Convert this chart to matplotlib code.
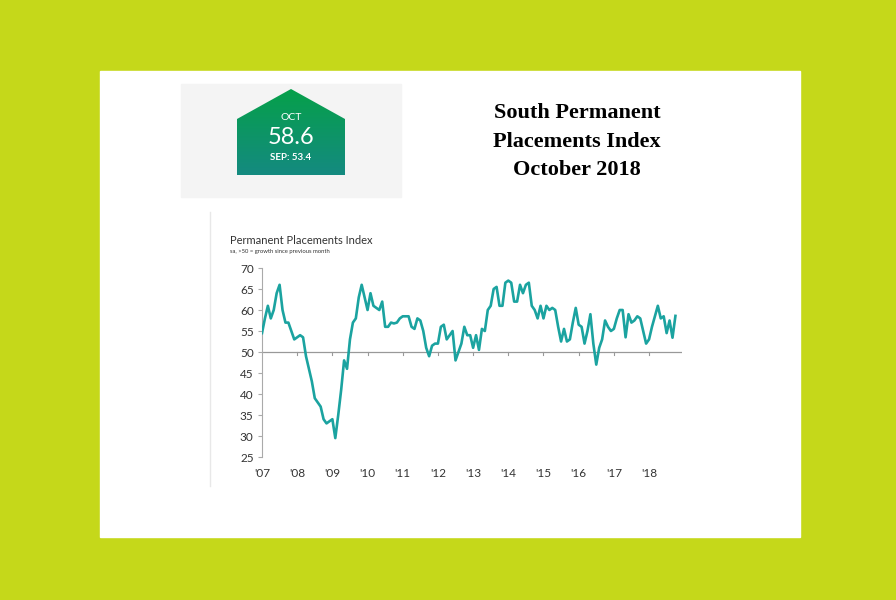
import numpy as np
import matplotlib
matplotlib.use("Agg")
import matplotlib.pyplot as plt
from matplotlib.patches import Rectangle, Polygon
from matplotlib.colors import LinearSegmentedColormap

years = ["'07","'08","'09","'10","'11","'12","'13","'14","'15","'16","'17","'18"]
v2007 = [54.5, 58, 61, 58, 60, 64, 66, 60, 57, 57, 55, 53]
v2008 = [53.5, 54, 53.5, 49, 46, 43, 39, 38, 37, 34, 33, 33.5]
v2009 = [34, 29.5, 35, 41, 48, 46, 53, 57, 58, 63, 66, 63]
v2010 = [60, 64, 61, 60.5, 60, 62, 56, 56, 57, 56.8, 57, 58]
v2011 = [58.5, 58.5, 58.5, 56, 55.5, 58, 57.5, 55, 51, 49, 51.5, 52]
v2012 = [52, 56, 56.5, 53, 54, 55, 48, 50, 52, 56, 54, 54]
v2013 = [51, 54, 50.5, 55.5, 55, 60, 61, 65, 65.5, 61, 61, 66.5]
v2014 = [67, 66.5, 62, 62, 66, 64, 66, 66.5, 61, 60, 58, 61]
v2015 = [58, 61, 60, 60.5, 60, 56, 52.5, 55.5, 52.5, 53, 57, 60.5]
v2016 = [56.5, 56, 52, 55, 59, 52, 47, 51, 53, 57.5, 56, 55]
v2017 = [55.5, 58, 60, 60, 53.5, 59, 57, 57.5, 58.5, 58, 55, 52]
v2018 = [53, 56, 58.5, 61, 58, 58.5, 54.5, 57.5, 53.4, 58.6]
values = v2007+v2008+v2009+v2010+v2011+v2012+v2013+v2014+v2015+v2016+v2017+v2018
yticks = [25, 30, 35, 40, 45, 50, 55, 60, 65, 70]
latest_month, latest_val, prev_label = "OCT", "58.6", "SEP: 53.4"

W, H = 896, 600
fig = plt.figure(figsize=(W/100, H/100), dpi=100)
fig.patch.set_facecolor("#c5d81a")

bg = fig.add_axes([0, 0, 1, 1])
bg.set_xlim(0, W); bg.set_ylim(H, 0); bg.axis("off")
bg.add_patch(Rectangle((100, 71), 700, 466, color="white"))
bg.add_patch(Rectangle((181, 84), 220, 113, color="#f4f4f4"))
bg.plot([210, 210], [212, 486], color="#e8e8e8", lw=1)
house = Polygon([(237, 119), (291, 89), (345, 119), (345, 175), (237, 175)], closed=True,
                facecolor="none", edgecolor="none")
bg.add_patch(house)
grad = np.linspace(0, 1, 100).reshape(-1, 1)
cm = LinearSegmentedColormap.from_list("g", ["#06a04a", "#148a80"])
im = bg.imshow(grad, cmap=cm, extent=(237, 345, 175, 89), aspect="auto", zorder=2)
im.set_clip_path(house)
bg.set_xlim(0, W); bg.set_ylim(H, 0)
bg.text(291, 117, latest_month, color="white", ha="center", va="center", fontsize=7.5, family="Lato", zorder=3)
bg.text(291, 138, latest_val, color="white", ha="center", va="center", fontsize=17, family="Lato", zorder=3)
bg.text(291, 157, prev_label, color="white", ha="center", va="center", fontsize=7, family="Lato", weight="bold", zorder=3)
for y, t in zip([113, 142, 170], ["South Permanent", "Placements Index", "October 2018"]):
    bg.text(577, y, t, ha="center", va="center", fontsize=16, family="Liberation Serif", weight="bold")
bg.text(230, 240, "Permanent Placements Index", fontsize=8, family="Lato", color="#333333", va="center")
bg.text(230, 251, "sa, >50 = growth since previous month", fontsize=4.2, family="Lato", color="#333333", va="center")

ax = fig.add_axes([262/W, 1-457/H, (682-262)/W, (457-268)/H])
ax.patch.set_alpha(0)
x = 2007 + np.arange(len(values))/12
ax.plot(x, values, color="#1ba3a0", lw=1.9, zorder=3, solid_joinstyle="round")
ax.axhline(50, color="#999999", lw=0.9, zorder=1)
ax.set_ylim(25, 70); ax.set_xlim(2007, 2018 + 11/12 + 0.02)
ax.set_yticks(yticks)
ax.set_xticks(2007 + np.arange(len(years)))
ax.set_xticklabels(years)
for s in ["top", "right", "bottom"]:
    ax.spines[s].set_visible(False)
ax.spines["left"].set_color("#aaaaaa")
ax.tick_params(axis="y", length=3, color="#aaaaaa", labelsize=8.5, pad=3)
ax.tick_params(axis="x", length=0, labelsize=8.5, pad=8)
for yr in range(2008, 2019):
    ax.plot([yr, yr], [50, 49.2], color="#999999", lw=0.8)
for lab in ax.get_xticklabels() + ax.get_yticklabels():
    lab.set_family("Lato"); lab.set_color("#333333")
fig.savefig("out.png", dpi=100, facecolor=fig.get_facecolor())
